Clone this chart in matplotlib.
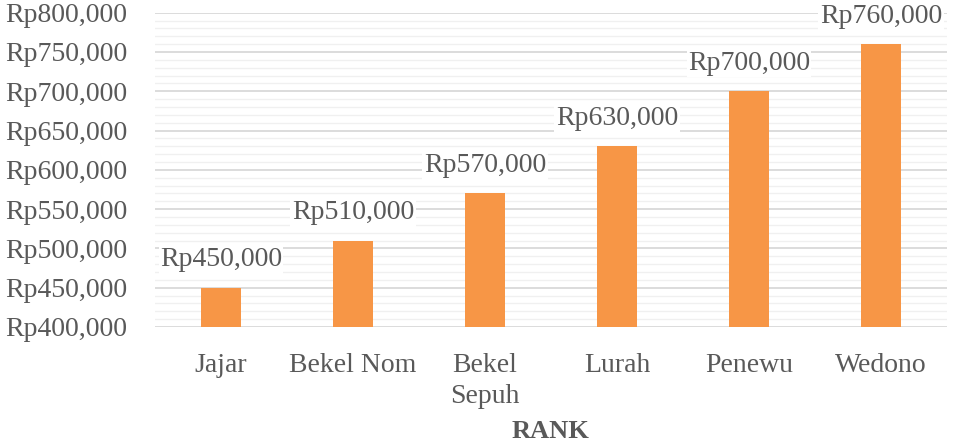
import matplotlib
matplotlib.use("Agg")
import matplotlib.pyplot as plt
from matplotlib.ticker import MultipleLocator, FuncFormatter

categories = ["Jajar", "Bekel Nom", "Bekel\nSepuh", "Lurah", "Penewu", "Wedono"]
values = [450000, 510000, 570000, 630000, 700000, 760000]

plt.rcParams['font.family'] = ['Liberation Serif', 'DejaVu Serif']
plt.rcParams['ytick.major.pad'] = 20
plt.rcParams['xtick.major.pad'] = 19
FS = 20
TXT = "#595959"

fig = plt.figure(figsize=(9.56, 4.43), dpi=100)
ax = fig.add_axes([155/956, 1-327/443, (947-155)/956, (327-12.7)/443])

x = list(range(len(categories)))
ax.bar(x, values, width=0.3, color="#F79646", zorder=3)
ax.set_xlim(-0.5, len(categories)-0.5)
ax.set_ylim(400000, 800000)
ax.yaxis.set_major_locator(MultipleLocator(50000))
ax.yaxis.set_minor_locator(MultipleLocator(10000))
ax.yaxis.set_major_formatter(FuncFormatter(lambda v, p: f"Rp{int(v):,}"))
ax.grid(axis='y', which='major', color="#d9d9d9", linewidth=1.3, zorder=0)
ax.grid(axis='y', which='minor', color="#f0f0f0", linewidth=1.0, zorder=0)
for s in ax.spines.values():
    s.set_visible(False)
ax.tick_params(axis='both', which='both', length=0, colors=TXT, labelsize=FS)
ax.set_xticks(x)
ax.set_xticklabels(categories, linespacing=1.3)

for xi, v in zip(x, values):
    ax.annotate(f"Rp{v:,}", (xi, v), xytext=(0, 11), textcoords="offset points",
                ha='center', va='bottom', fontsize=FS, color=TXT, zorder=4,
                bbox=dict(boxstyle="square,pad=0.05", fc="white", ec="none"))

ax.set_xlabel("RANK", fontsize=19, fontweight='bold', color=TXT, labelpad=8)
fig.savefig("out.png", dpi=100)
